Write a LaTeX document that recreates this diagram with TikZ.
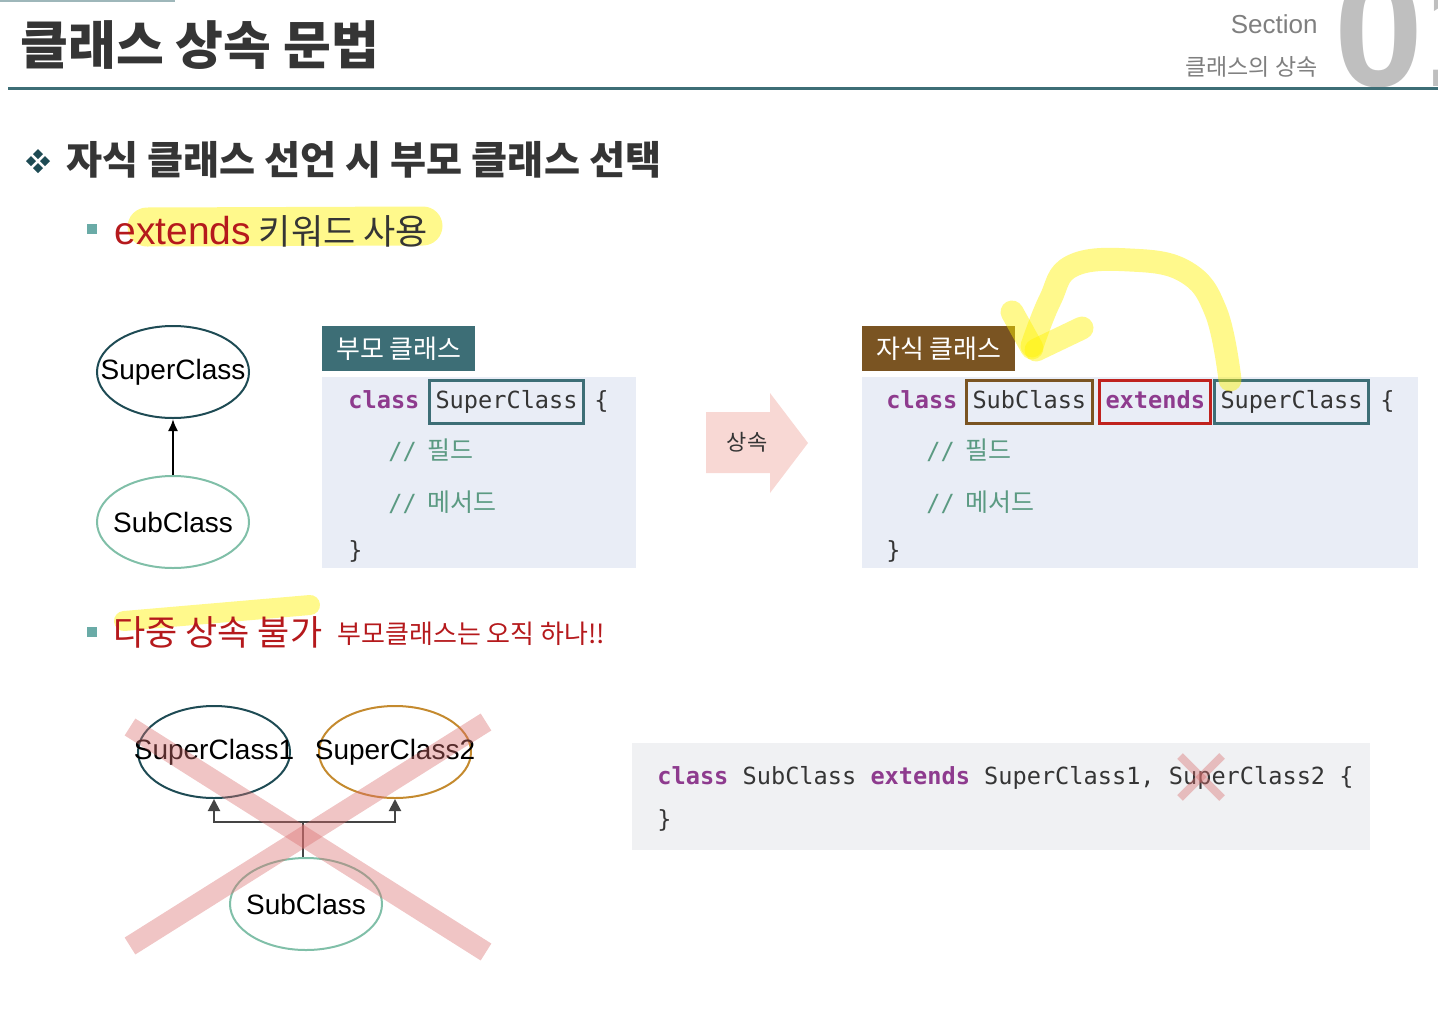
\documentclass[tikz,border=0pt]{standalone}
\usepackage{fontspec}
\setmainfont{Noto Sans CJK KR}
\newfontfamily\latin{Liberation Sans}
\newfontfamily\mono{DejaVu Sans Mono}
\usetikzlibrary{
    arrows.meta,      % For arrow tips
    shapes.geometric, % For ellipse nodes
    positioning       % For relative placement
}
\definecolor{txtdark}{HTML}{353535}
\definecolor{rulecol}{HTML}{3D6E76}
\definecolor{tealtag}{HTML}{3D6E76}
\definecolor{browntag}{HTML}{7A5422}
\definecolor{redbox}{HTML}{C0221E}
\definecolor{kwpurple}{HTML}{8E3B8E}
\definecolor{cmtgreen}{HTML}{5B9A82}
\definecolor{codebg}{HTML}{E9EDF6}
\definecolor{codegray}{HTML}{F0F1F3}
\definecolor{arrowpink}{HTML}{F8D8D4}
\definecolor{supcol}{HTML}{1E4B54}
\definecolor{subcol}{HTML}{80BFA8}
\definecolor{supBcol}{HTML}{C48A2E}
\definecolor{bulletcol}{HTML}{6AABA7}
\definecolor{redtext}{HTML}{B5191C}
\definecolor{graytext}{HTML}{7F7F7F}
\definecolor{bigdigit}{HTML}{BFBFBF}
\definecolor{crosspink}{HTML}{D96E6E}
\definecolor{linkgray}{HTML}{444444}
\newcommand{\fsz}[1]{\fontsize{#1pt}{#1pt}\selectfont}
\newcommand{\cname}[1]{\makebox[0pt]{#1}} % class name, no effect on ellipse size
\newcommand{\cmtline}[1]{{\mono\fsz{11.8}//}\hspace{5.5pt}#1}

\begin{document}
\begin{tikzpicture}[
    x=0.5pt, y=-0.5pt, % one unit = one pixel of the slide
    >=Latex,
    plain/.style={inner sep=0, anchor=west, text=txtdark},
    classnode/.style={ellipse, draw=#1, line width=1pt, minimum width=76pt,
        minimum height=46pt, inner sep=0, font=\latin\fsz{14}, text=black},
    tagbox/.style={fill=#1, text=white, font=\fsz{13}, minimum width=76.5pt,
        minimum height=22.5pt, inner sep=0, anchor=north west},
    codetext/.style={font=\mono\fsz{11.8}, inner sep=0, anchor=west, text=txtdark,
        text height=9pt, text depth=2.5pt},
    kw/.style={codetext, font=\mono\bfseries\fsz{11.8}, text=kwpurple},
    wordbox/.style={codetext, draw=#1, line width=1.5pt, inner xsep=3pt,
        minimum height=21.5pt},
    cmt/.style={inner sep=0, anchor=west, font=\fsz{12.5}, text=cmtgreen},
    highlight/.style={yellow, opacity=.45, line cap=round, line join=round, line width=#1},
    cross/.style={crosspink, opacity=.4, line width=#1},
    link/.style={linkgray, line width=1pt},
    sqbullet/.style={fill=bulletcol}
]
    \useasboundingbox (0,0) rectangle (1438,1028);
    \clip (0,0) rectangle (1438,1028);

    % Header
    \draw[rulecol!50, line width=1pt] (0,1) -- (175,1);
    \node[plain, font=\bfseries\fsz{26}] (title) at (20,45) {클래스 상속 문법};
    \node[inner sep=0, anchor=east, font=\latin\fsz{13}, text=graytext] (sect) at (1318,24) {Section};
    \node[inner sep=0, anchor=east, font=\fsz{11.5}, text=graytext] (secname) at (1318,67) {클래스의 상속};
    \node[inner sep=0, anchor=base west, font=\latin\bfseries\fsz{80}, text=bigdigit] (secnum) at (1334,86) {01};
    \draw[rulecol, line width=1.5pt] (8,88) -- (1438,88);

    % Heading with diamond bullet
    \foreach \dx/\dy in {-7/0, 7/0, 0/-7, 0/7}
        \fill[supcol] (38+\dx,161+\dy) +(0,-5) -- +(5,0) -- +(0,5) -- +(-5,0) -- cycle;
    \node[plain, font=\bfseries\fsz{19.6}] (head) at (66,160) {자식 클래스 선언 시 부모 클래스 선택};

    % Bullet 1
    \draw[highlight=19.5pt] (147,227) -- (423,226);
    \fill[sqbullet] (87,224) rectangle (97,234);
    \node[plain, font=\fsz{17.5}] (bul1) at (114,231) {\textcolor{redtext}{\latin\fsz{19.5}extends} 키워드 사용};

    % Single inheritance diagram
    \node[classnode=supcol] (sup) at (173,372) {\cname{SuperClass}};
    \node[classnode=subcol] (sub) at (173,522) {\cname{SubClass}};
    \draw[black, line width=1pt, -{Latex[length=6pt, width=5pt]}] (sub.north) -- (sup.south);

    % Parent class code
    \node[tagbox=tealtag] (ptag) at (322,326) {부모 클래스};
    \fill[codebg] (322,377) rectangle (636,568);
    \node[kw] (pcls) at (348,402) {class};
    \node[wordbox=tealtag] (pname) at (428,402) {SuperClass};
    \node[codetext] (pbrace) at (594,402) {\{};
    \node[cmt] (pfield) at (388,450) {\cmtline{필드}};
    \node[cmt] (pmethod) at (388,502) {\cmtline{메서드}};
    \node[codetext] (pend) at (348,552) {\}};

    % Inheritance arrow
    \fill[arrowpink] (706,412) -- (770,412) -- (770,393) -- (808,443)
        -- (770,493) -- (770,473) -- (706,473) -- cycle;
    \node[inner sep=0, font=\fsz{11}, text=txtdark] (inh) at (747,442) {상속};

    % Child class code
    \node[tagbox=browntag] (ctag) at (862,326) {자식 클래스};
    \fill[codebg] (862,377) rectangle (1418,568);
    \node[kw] (ccls) at (886,402) {class};
    \node[wordbox=browntag] (cname) at (965,402) {SubClass};
    \node[wordbox=redbox, font=\mono\bfseries\fsz{11.8}, text=kwpurple] (cext) at (1098,402) {extends};
    \node[wordbox=tealtag] (csup) at (1213,402) {SuperClass};
    \node[codetext] (cbrace) at (1380,402) {\{};
    \node[cmt] (cfield) at (926,450) {\cmtline{필드}};
    \node[cmt] (cmethod) at (926,502) {\cmtline{메서드}};
    \node[codetext] (cend) at (886,552) {\}};

    % Hand-drawn highlight arrow
    \draw[highlight=11.5pt] plot[smooth, tension=0.7] coordinates {
        (1230,380) (1216,312) (1186,272) (1130,260) (1072,266) (1050,300) (1032,346)};
    \draw[highlight=11.5pt] (1012,312) -- (1032,348);
    \draw[highlight=11.5pt] (1082,328) -- (1036,350);

    % Bullet 2
    \draw[highlight=10pt] (124,621) -- (310,605);
    \fill[sqbullet] (87,627) rectangle (97,637);
    \node[plain, font=\fsz{17.5}, text=redtext] (bul2) at (113,632) {다중 상속 불가};
    \node[plain, font=\fsz{13}, text=redtext] (bul2note) at (337,634) {부모클래스는 오직 하나!!};

    % Multiple inheritance diagram
    \node[classnode=supcol] (supA) at (214,752) {\cname{SuperClass1}};
    \node[classnode=supBcol] (supB) at (395,752) {\cname{SuperClass2}};
    \node[classnode=subcol] (subB) at (306,904) {\cname{SubClass}};
    \coordinate (fork) at (303,822);
    \draw[link] (subB.north -| fork) -- (fork);
    \draw[link, -{Triangle[length=6pt, width=6pt]}] (fork) -| (supA.south);
    \draw[link, -{Triangle[length=6pt, width=6pt]}] (fork) -| (supB.south);
    \draw[cross=10pt] (130,727) -- (486,952);
    \draw[cross=10pt] (486,722) -- (130,946);

    % Multiple inheritance code
    \fill[codegray] (632,743) rectangle (1370,850);
    \node[codetext] (mline) at (657,778) {{\bfseries\color{kwpurple}class} SubClass {\bfseries\color{kwpurple}extends} SuperClass1, SuperClass2 \{};
    \node[codetext] (mend) at (657,821) {\}};
    \draw[cross=4pt] (1180,756) -- (1222,798);
    \draw[cross=4pt] (1222,756) -- (1180,798);
\end{tikzpicture}
\end{document}
